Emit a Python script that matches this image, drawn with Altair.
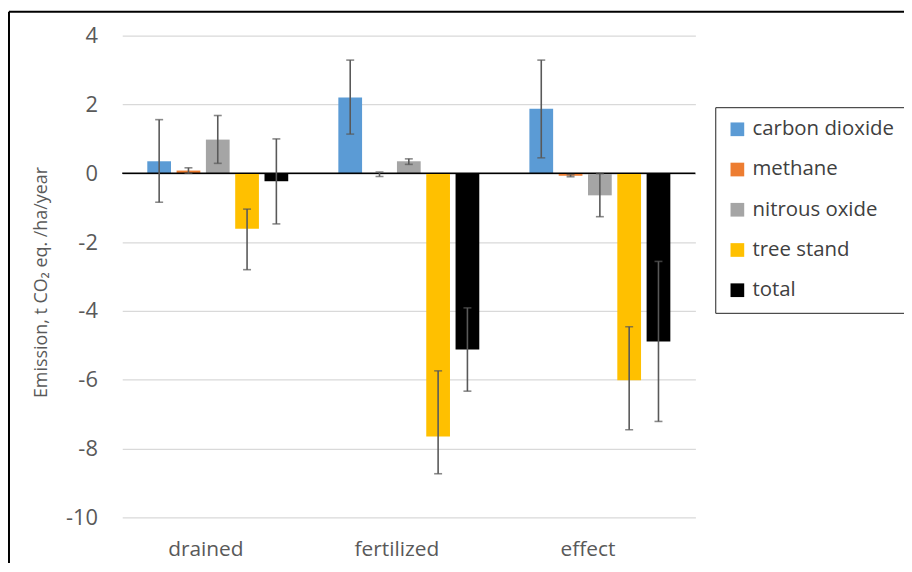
import altair as alt
import pandas as pd

categories = ["drained", "fertilized", "effect"]
series = ["carbon dioxide", "methane", "nitrous oxide", "tree stand", "total"]
colors = ["#5B9BD5", "#ED7D31", "#A5A5A5", "#FFC000", "#000000"]

co2 = [0.35, 2.20, 1.88]
co2_lo = [-0.84, 1.14, 0.45]
co2_hi = [1.56, 3.29, 3.29]

methane = [0.08, -0.02, -0.07]
methane_lo = [0.00, -0.09, -0.10]
methane_hi = [0.16, 0.04, -0.04]

n2o = [0.98, 0.35, -0.64]
n2o_lo = [0.29, 0.26, -1.26]
n2o_hi = [1.68, 0.42, -0.01]

tree = [-1.61, -7.65, -6.01]
tree_lo = [-2.80, -8.73, -7.45]
tree_hi = [-1.04, -5.74, -4.46]

total = [-0.23, -5.12, -4.89]
total_lo = [-1.47, -6.33, -7.21]
total_hi = [1.00, -3.91, -2.56]

y_ticks = [4, 2, 0, -2, -4, -6, -8, -10]

rows = []
for name, v, lo, hi in [
    ("carbon dioxide", co2, co2_lo, co2_hi),
    ("methane", methane, methane_lo, methane_hi),
    ("nitrous oxide", n2o, n2o_lo, n2o_hi),
    ("tree stand", tree, tree_lo, tree_hi),
    ("total", total, total_lo, total_hi),
]:
    for i, c in enumerate(categories):
        rows.append({"category": c, "series": name, "value": v[i], "lo": lo[i], "hi": hi[i]})
df = pd.DataFrame(rows)

FONT = "Open Sans"

x_enc = alt.X(
    "category:N",
    sort=categories,
    scale=alt.Scale(paddingInner=0, paddingOuter=0),
    axis=alt.Axis(
        title=None, labelAngle=0, domain=False, ticks=False, grid=False,
        labelFontSize=21, labelColor="#595959", labelPadding=21, labelOffset=-12,
        labelFont=FONT,
    ),
)
xo_enc = alt.XOffset(
    "series:N", sort=series,
    scale=alt.Scale(paddingInner=0.19, paddingOuter=0.855),
)
y_scale = alt.Scale(domain=[-10, 4], nice=False, zero=False)

base = alt.Chart(df)

bars = base.mark_bar().encode(
    x=x_enc,
    xOffset=xo_enc,
    y=alt.Y(
        "value:Q", scale=y_scale,
        axis=alt.Axis(
            values=y_ticks, title="Emission, t CO\u2082 eq.  /ha/year",
            labelExpr="'' + datum.value",
            domain=False, ticks=False, grid=True, gridColor="#D9D9D9", gridWidth=1.3,
            labelFontSize=22, labelColor="#595959", labelPadding=25, labelFont=FONT,
            titleFontSize=18, titleColor="#595959", titleFontWeight="normal", titleFont=FONT,
            titleAngle=270, titleX=-81, titleY=248, titleAlign="center", titleBaseline="middle",
        ),
    ),
    color=alt.Color(
        "series:N", sort=series,
        scale=alt.Scale(domain=series, range=colors),
        legend=alt.Legend(
            title=None, orient="none", legendX=597, legendY=72,
            strokeColor="#222222", padding=12, symbolType="square", symbolSize=190,
            symbolStrokeWidth=0, labelFontSize=20.5, labelColor="#404040", labelFont=FONT,
            rowPadding=19.5, labelOffset=5,
        ),
    ),
)

zero = alt.Chart(pd.DataFrame({"z": [0]})).mark_rule(color="#000000", strokeWidth=1.6).encode(
    y=alt.Y("z:Q", scale=y_scale)
)

err = base.mark_rule(color="#595959", strokeWidth=1.6).encode(
    x=x_enc, xOffset=xo_enc, y=alt.Y("lo:Q", scale=y_scale), y2="hi:Q"
)
cap_lo = base.mark_tick(color="#595959", orient="horizontal", size=8, thickness=1.6).encode(
    x=x_enc, xOffset=xo_enc, y=alt.Y("lo:Q", scale=y_scale)
)
cap_hi = base.mark_tick(color="#595959", orient="horizontal", size=8, thickness=1.6).encode(
    x=x_enc, xOffset=xo_enc, y=alt.Y("hi:Q", scale=y_scale)
)

frame_df = pd.DataFrame({"f": [0]})
frame_top = alt.Chart(frame_df).mark_rule(color="#000000", strokeWidth=2).encode(
    x=alt.value(-114), x2=alt.value(800), y=alt.value(-24)
)
frame_left = alt.Chart(frame_df).mark_rule(color="#000000", strokeWidth=2).encode(
    x=alt.value(-114), y=alt.value(-24), y2=alt.value(560)
)

chart = alt.layer(bars, zero, err, cap_lo, cap_hi, frame_top, frame_left).properties(
    width=577, height=485,
    autosize=alt.AutoSizeParams(type="none"),
    padding={"left": 115, "top": 26, "right": 210, "bottom": 44},
).configure(font=FONT).configure_view(stroke=None)

chart.save("out.html", embed_options={"renderer": "svg", "actions": False})
